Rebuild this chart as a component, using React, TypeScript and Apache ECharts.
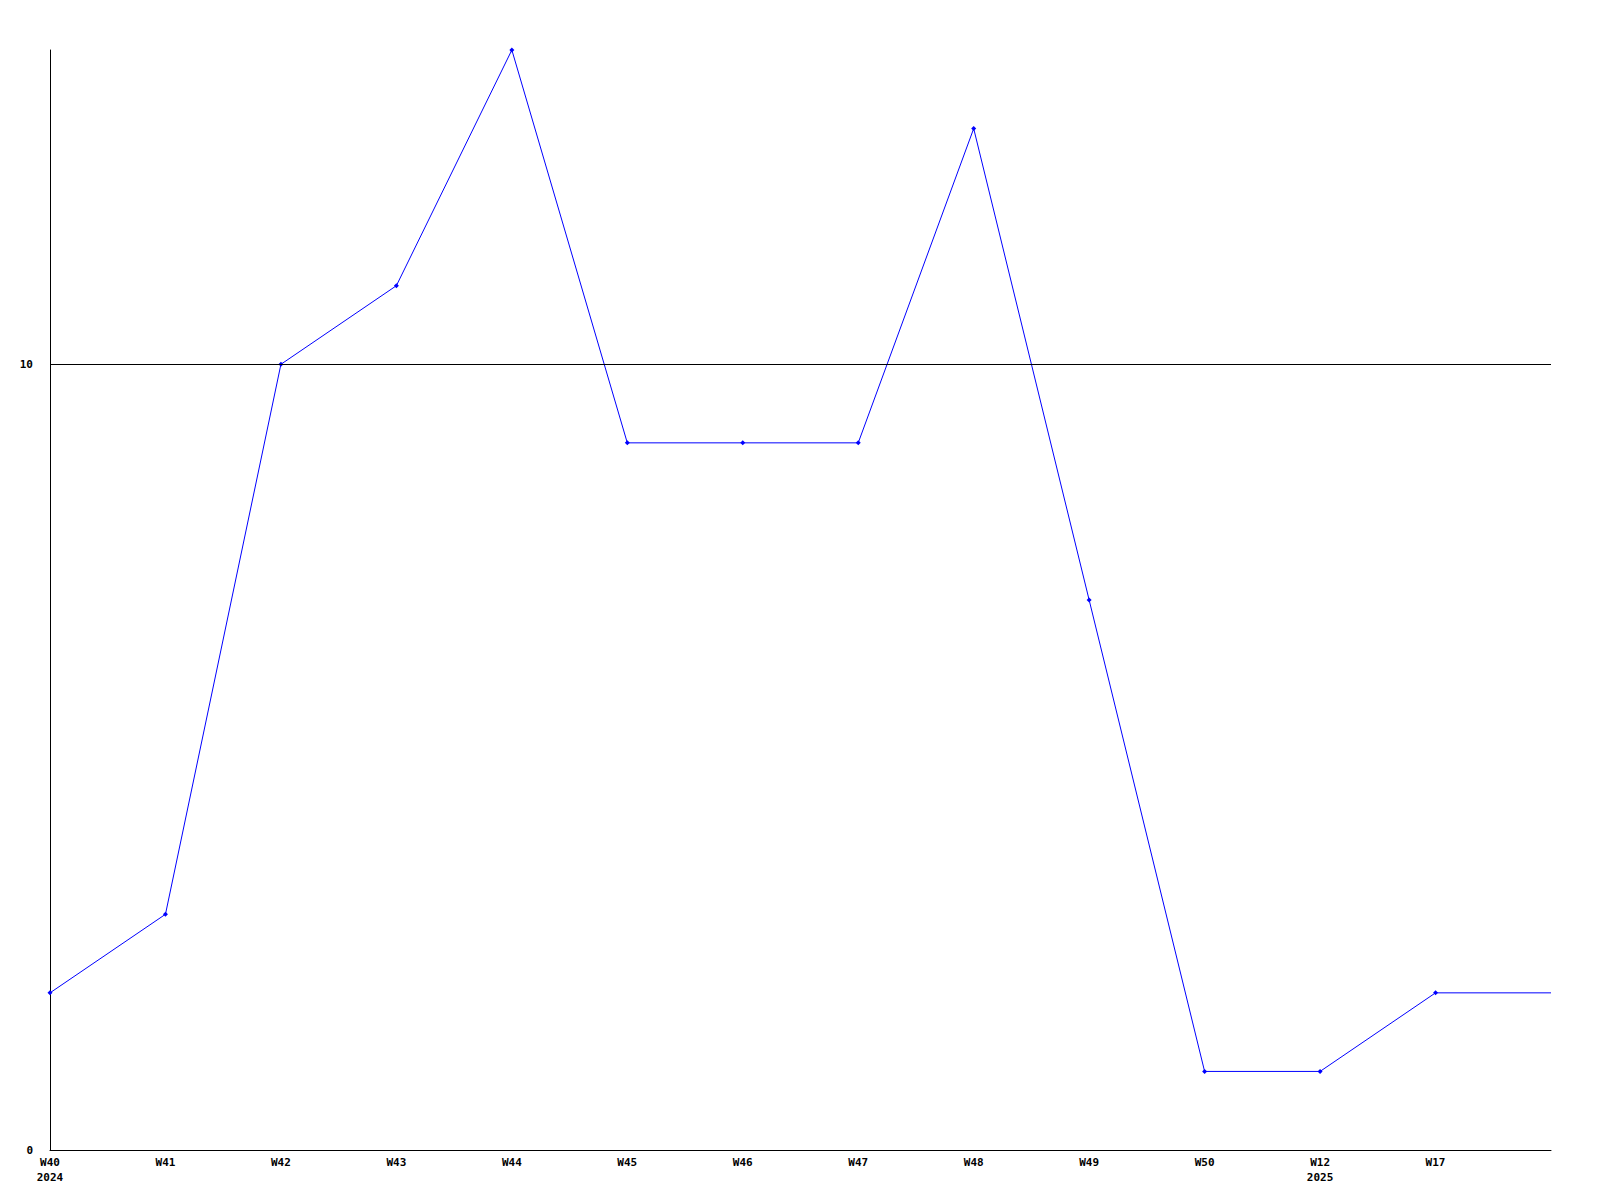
import React, { useEffect, useRef } from "react";
import * as echarts from "echarts";

const categories = ["W40\n2024", "W41", "W42", "W43", "W44", "W45", "W46", "W47", "W48", "W49", "W50", "W12\n2025", "W17", ""];
const values = [2, 3, 10, 11, 14, 9, 9, 9, 13, 7, 1, 1, 2, 2];
const yMin = 0;
const yMax = 14;
const yInterval = 10;
const refLineValue = 10;

export default function App() {
  const ref = useRef<HTMLDivElement>(null);
  useEffect(() => {
    if (!ref.current) return;
    const chart = echarts.init(ref.current, null, { renderer: "svg" });
    const font = { fontFamily: "DejaVu Sans Mono", fontWeight: "bold" as const, fontSize: 11, color: "#000" };
    chart.setOption({
      animation: false,
      backgroundColor: "#fff",
      grid: { left: 50, top: 50, right: 49, bottom: 50, containLabel: false },
      xAxis: {
        type: "category",
        data: categories,
        boundaryGap: false,
        axisLine: { show: true, lineStyle: { color: "#000", width: 1 } },
        axisTick: { show: false },
        axisLabel: { ...font, interval: 0, margin: 5, lineHeight: 15 },
        splitLine: { show: false },
      },
      yAxis: {
        type: "value",
        min: yMin,
        max: yMax,
        interval: yInterval,
        axisLine: { show: true, lineStyle: { color: "#000", width: 1 } },
        axisTick: { show: false },
        axisLabel: { ...font, margin: 17, formatter: (v: number) => (v === yMax ? "" : String(v)) },
        splitLine: { show: false },
      },
      series: [
        {
          type: "line",
          data: values.map((v, i) => (i === values.length - 1 ? { value: v, symbol: "none" } : v)),
          symbol: "diamond",
          symbolSize: 5,
          showSymbol: true,
          lineStyle: { color: "#0000ff", width: 1 },
          itemStyle: { color: "#0000ff" },
          markLine: {
            silent: true,
            symbol: "none",
            label: { show: false },
            lineStyle: { color: "#000", width: 1, type: "solid" },
            data: [{ yAxis: refLineValue }],
          },
          z: 3,
        },
      ],
    });
    return () => chart.dispose();
  }, []);
  return <div ref={ref} style={{ position: "fixed", left: 0, top: 0, width: 1600, height: 1200 }} />;
}
